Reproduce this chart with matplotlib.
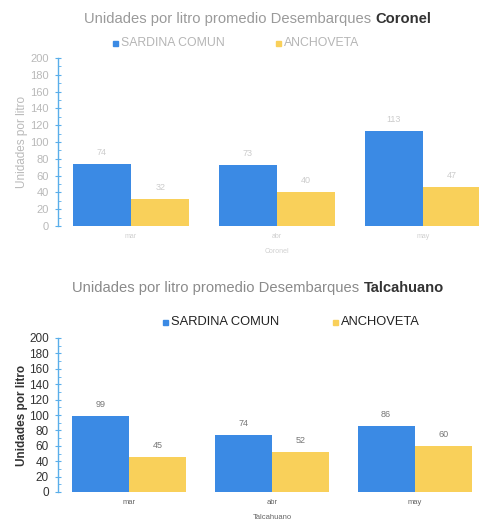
import matplotlib
matplotlib.use("Agg")
import matplotlib.pyplot as plt
import numpy as np
from matplotlib.ticker import MultipleLocator
from matplotlib.patches import Rectangle

months = ["mar", "abr", "may"]
series_names = ["SARDINA COMUN", "ANCHOVETA"]
coronel_sardina = [74, 73, 113]
coronel_anchoveta = [32, 40, 47]
talca_sardina = [99, 74, 86]
talca_anchoveta = [45, 52, 60]
yticks = [0, 20, 40, 60, 80, 100, 120, 140, 160, 180, 200]

BLUE = "#3b8ae4"
YELLOW = "#f9d05a"
AXBLUE = "#5aaeea"

W, H = 479, 524
fig = plt.figure(figsize=(W / 100, H / 100), dpi=100)
plt.rcParams['font.family'] = ['Liberation Sans', 'DejaVu Sans']


def px_rect(x0, y0, x1, y1):
    return [x0 / W, 1 - y1 / H, (x1 - x0) / W, (y1 - y0) / H]


def draw_chart(ax, s1, s2, place, tick_color, text_fs, ylab_fs, label_color,
               val_color, ylabel_bold, xl_fs, xlab_pad):
    x = np.arange(len(months))
    w = 0.4
    ax.bar(x - w / 2, s1, w, color=BLUE, zorder=2)
    ax.bar(x + w / 2, s2, w, color=YELLOW, zorder=2)
    for xi, v in zip(x - w / 2, s1):
        ax.annotate(str(v), (xi, v), xytext=(0, 5), textcoords="offset points",
                    ha="center", va="bottom", fontsize=6.5, color=val_color)
    for xi, v in zip(x + w / 2, s2):
        ax.annotate(str(v), (xi, v), xytext=(0, 5), textcoords="offset points",
                    ha="center", va="bottom", fontsize=6.5, color=val_color)
    ax.set_xlim(-0.5, 2.5)
    ax.set_ylim(0, 200)
    ax.set_yticks(yticks)
    ax.yaxis.set_minor_locator(MultipleLocator(10))
    ax.set_xticks(x)
    ax.set_xticklabels(months, fontsize=xl_fs, color=label_color)
    ax.tick_params(axis="x", length=0, pad=5)
    ax.tick_params(axis="y", which="major", direction="inout", length=5,
                   color=AXBLUE, labelsize=text_fs, labelcolor=tick_color, pad=4)
    ax.tick_params(axis="y", which="minor", direction="in", length=2, color=AXBLUE)
    for s in ["top", "right", "bottom"]:
        ax.spines[s].set_visible(False)
    ax.spines["left"].set_color(AXBLUE)
    ax.spines["left"].set_linewidth(1.0)
    ax.set_ylabel("Unidades por litro", fontsize=ylab_fs, color=tick_color,
                  fontweight="bold" if ylabel_bold else "normal")
    ax.yaxis.set_label_coords(-30 / (ax.get_position().width * W), 0.5)
    ax.set_xlabel(place, fontsize=xl_fs, color=label_color, labelpad=xlab_pad)


ax1 = fig.add_axes(px_rect(58, 58, 496, 226))
draw_chart(ax1, coronel_sardina, coronel_anchoveta, "Coronel", "#b9b9b9", 8, 8.5,
           "#d0d0d0", "#cccccc", False, 5, 6)
ax2 = fig.add_axes(px_rect(58, 338, 486, 492))
draw_chart(ax2, talca_sardina, talca_anchoveta, "Talcahuano", "#333333", 8.5, 8.5,
           "#666666", "#777777", True, 5.5, 6)


def legend_row(y, items, fs, color, sq):
    for (xp, label, c) in items:
        fig.patches.append(Rectangle(((xp) / W, 1 - (y + sq / 2) / H), sq / W, sq / H,
                                     transform=fig.transFigure, color=c,
                                     figure=fig))
        fig.text((xp + sq + 3) / W, 1 - y / H, label, fontsize=fs, color=color,
                 ha="left", va="center")

legend_row(43, [(113, series_names[0], BLUE), (276, series_names[1], YELLOW)],
           8.8, "#b5b5b5", 5)
legend_row(322, [(163, series_names[0], BLUE), (333, series_names[1], YELLOW)],
           9.3, "#222222", 5)

fig.canvas.draw()
renderer = fig.canvas.get_renderer()


def title_row(y, x_center, normal, bold, fs, ncolor, bcolor):
    t1 = fig.text(0, 1 - y / H, normal + " ", fontsize=fs, color=ncolor,
                  ha="left", va="center")
    t2 = fig.text(0, 1 - y / H, bold, fontsize=fs, color=bcolor,
                  fontweight="bold", ha="left", va="center")
    w1 = t1.get_window_extent(renderer).width
    w2 = t2.get_window_extent(renderer).width
    x0 = x_center - (w1 + w2) / 2
    t1.set_x(x0 / W)
    t2.set_x((x0 + w1) / W)

title_row(19, 258, "Unidades por litro promedio Desembarques", "Coronel", 10.6,
          "#9a9a9a", "#333333")
title_row(288, 258, "Unidades por litro promedio Desembarques", "Talcahuano", 10.6,
          "#8a8a8a", "#333333")

fig.savefig("out.png", dpi=100)
